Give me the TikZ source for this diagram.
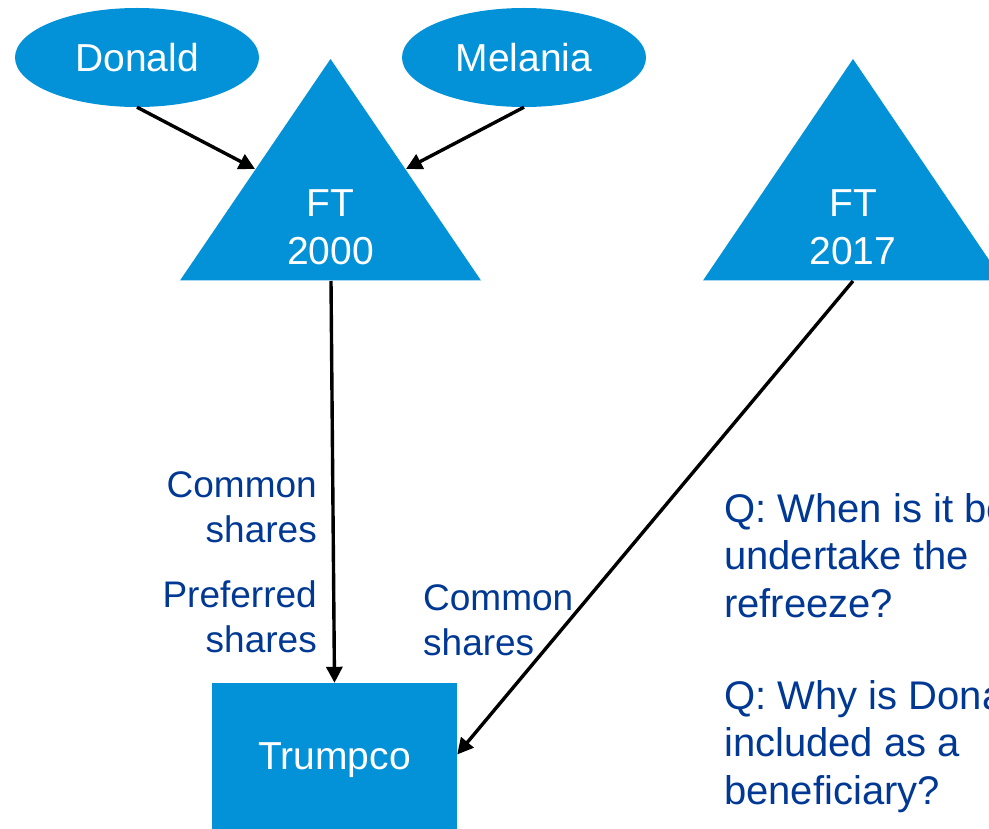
\documentclass[tikz,border=0pt]{standalone}
\usepackage{fontspec}
\setmainfont{Liberation Sans}
\usetikzlibrary{arrows.meta,shapes.geometric}
\definecolor{trustblue}{RGB}{3,146,216}
\definecolor{labelblue}{RGB}{0,56,147}

\begin{document}
\begin{tikzpicture}[x=1pt,y=-1pt,
  shapetext/.style={text=white,inner sep=0pt,font=\fontsize{39}{48}\selectfont},
  person/.style={ellipse,fill=trustblue,draw=none,minimum width=244pt,minimum height=99pt,shapetext},
  company/.style={rectangle,fill=trustblue,draw=none,minimum width=245pt,minimum height=155pt,shapetext},
  trustshape/.style={fill=trustblue,draw=none},
  conn/.style={draw=black,line width=3.4pt,-{Triangle[length=16pt,width=16pt]}},
  sharelabel/.style={text=labelblue,inner sep=0pt,font=\fontsize{37}{45}\selectfont},
  question/.style={text=labelblue,inner sep=0pt,align=left,font=\fontsize{40}{47.5}\selectfont}]
\useasboundingbox (0,0) rectangle (989,829);
\clip (0,0) rectangle (989,829);

% family trusts
\fill[trustshape] (330.5,59) -- (481,280.5) -- (180,280.5) -- cycle;
\fill[trustshape] (853,59) -- (1003,280.5) -- (703,280.5) -- cycle;
\coordinate (ftA-base) at (331,281);
\coordinate (ftA-left) at (255,169);
\coordinate (ftA-right) at (406,169);
\coordinate (ftB-base) at (853,281);
\node[shapetext,align=center] (ftA) at (330.5,227.5) {FT\\2000};
\node[shapetext,align=center] (ftB) at (853,227.5) {FT\\2017};

% individuals and corporation
\node[person] (donald) at (137,57.5) {Donald};
\node[person] (melania) at (524,57.5) {Melania};
\node[company] (trumpco) at (334.5,760.5) {Trumpco};

% ownership links
\draw[conn] (donald.south) -- (ftA-left);
\draw[conn] (melania.south) -- (ftA-right);
\draw[conn] (ftA-base) -- (trumpco.north);
\draw[conn] (ftB-base) -- ([yshift=6pt]trumpco.east);

% share labels
\node[sharelabel,align=right,anchor=north east] (lblA1) at (317,471) {Common\\shares};
\node[sharelabel,align=right,anchor=north east] (lblA2) at (317,580) {Preferred\\shares};
\node[sharelabel,align=left,anchor=north west] (lblB) at (423,584) {Common\\shares};

% open questions
\node[question,anchor=north west] (q1) at (724,493) {Q: When is it best to\\undertake the\\refreeze?};
\node[question,anchor=north west] (q2) at (724,680) {Q: Why is Donald\\included as a\\beneficiary?};
\end{tikzpicture}
\end{document}
